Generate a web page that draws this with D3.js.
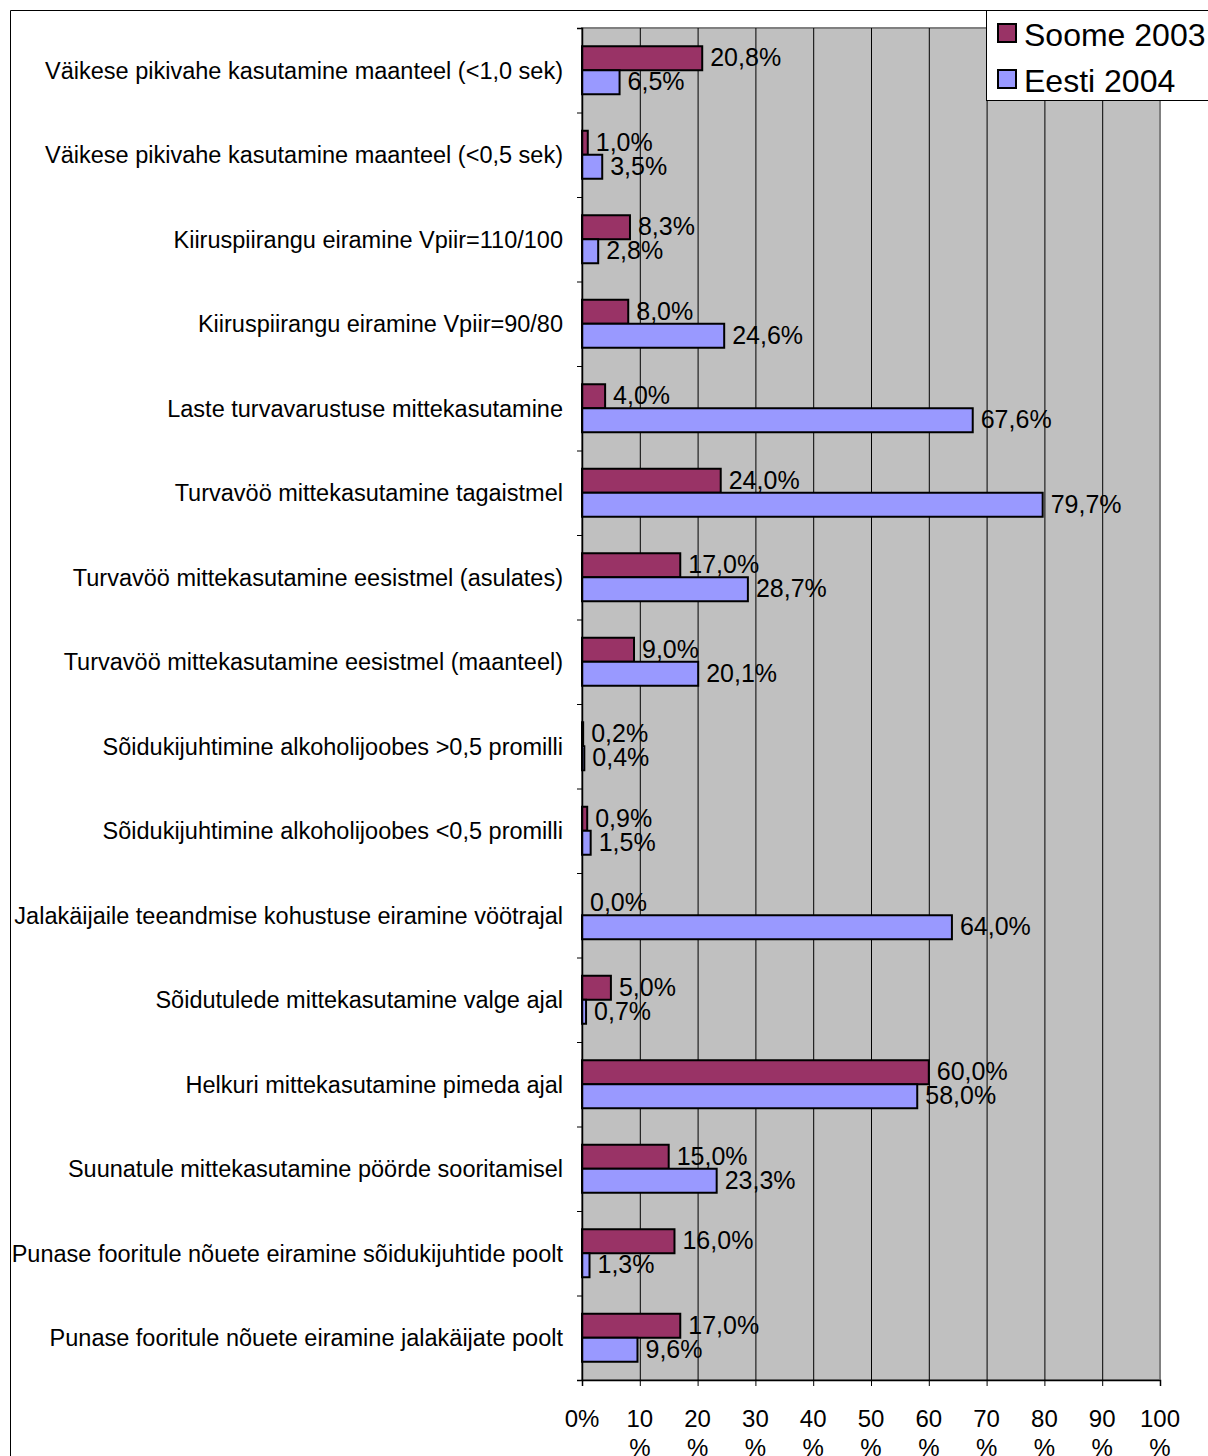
<!DOCTYPE html>
<html>
<head>
<meta charset="utf-8">
<script src="https://cdn.jsdelivr.net/npm/d3@7"></script>
<style>
  body { margin: 0; background: #fff; }
  text { font-family: "Liberation Sans", Arial, sans-serif; fill: #000; }
</style>
</head>
<body>
<svg id="chart" width="1208" height="1456"></svg>
<script>
const categories = [
  'Väikese pikivahe kasutamine maanteel (<1,0 sek)',
  'Väikese pikivahe kasutamine maanteel (<0,5 sek)',
  'Kiiruspiirangu eiramine Vpiir=110/100',
  'Kiiruspiirangu eiramine Vpiir=90/80',
  'Laste turvavarustuse mittekasutamine',
  'Turvavöö mittekasutamine tagaistmel',
  'Turvavöö mittekasutamine eesistmel (asulates)',
  'Turvavöö mittekasutamine eesistmel (maanteel)',
  'Sõidukijuhtimine alkoholijoobes >0,5 promilli',
  'Sõidukijuhtimine alkoholijoobes <0,5 promilli',
  'Jalakäijaile teeandmise kohustuse eiramine vöötrajal',
  'Sõidutulede mittekasutamine valge ajal',
  'Helkuri mittekasutamine pimeda ajal',
  'Suunatule mittekasutamine pöörde sooritamisel',
  'Punase fooritule nõuete eiramine sõidukijuhtide poolt',
  'Punase fooritule nõuete eiramine jalakäijate poolt'
]
const soome2003 = [20.8, 1.0, 8.3, 8.0, 4.0, 24.0, 17.0, 9.0, 0.2, 0.9, 0.0, 5.0, 60.0, 15.0, 16.0, 17.0]
const eesti2004 = [6.5, 3.5, 2.8, 24.6, 67.6, 79.7, 28.7, 20.1, 0.4, 1.5, 64.0, 0.7, 58.0, 23.3, 1.3, 9.6]
const seriesNames = ['Soome 2003', 'Eesti 2004']
const seriesColors = ['#993366', '#9999FF']
const xTicks = [0, 10, 20, 30, 40, 50, 60, 70, 80, 90, 100]

const svg = d3.select('#chart')

// outer chart border (runs off the right/bottom edge like the original)
svg.append('path')
  .attr('d', 'M10.5,1456 V10.5 H1208')
  .attr('fill', 'none')
  .attr('stroke', '#000')

const margin = {left: 582, top: 28}
const width = 578
const height = 1352

const rows = categories.map((c, i) => ({
  cat: c,
  values: [soome2003[i], eesti2004[i]]
}))

const x = d3.scaleLinear().domain([0, 100]).range([0, width])
const y = d3.scaleBand()
  .domain(categories)
  .range([0, height])
  .paddingInner(0.432)
  .paddingOuter(0.216)
const ySub = d3.scaleBand()
  .domain(seriesNames)
  .range([0, y.bandwidth()])

const g = svg.append('g')
  .attr('transform', `translate(${margin.left},${margin.top})`)

// plot area
g.append('rect')
  .attr('x', 0).attr('y', 0)
  .attr('width', width).attr('height', height)
  .attr('fill', '#C0C0C0')
  .attr('stroke', '#808080')
  .attr('stroke-width', 2)

// vertical grid
g.append('g')
  .call(d3.axisBottom(x)
    .tickValues(xTicks.filter(t => t > 0 && t < 100))
    .tickSize(height)
    .tickFormat(''))
  .call(a => a.select('.domain').remove())
  .selectAll('line')
  .attr('stroke', '#000')
  .attr('stroke-width', 1)

// bars
const groups = g.selectAll('.row')
  .data(rows)
  .join('g')
  .attr('class', 'row')
  .attr('transform', d => `translate(0,${y(d.cat)})`)

groups.selectAll('rect')
  .data(d => d.values.map((v, k) => ({name: seriesNames[k], v, k})))
  .join('rect')
  .attr('x', x(0))
  .attr('y', d => ySub(d.name))
  .attr('width', d => x(d.v) - x(0))
  .attr('height', ySub.bandwidth())
  .attr('fill', d => seriesColors[d.k])
  .attr('stroke', '#000')
  .attr('stroke-width', 2)

// value labels
groups.selectAll('text')
  .data(d => d.values.map((v, k) => ({name: seriesNames[k], v, k})))
  .join('text')
  .attr('x', d => x(d.v) + 8)
  .attr('y', d => ySub(d.name) + ySub.bandwidth() / 2 - 1)
  .attr('dy', '0.36em')
  .attr('font-size', 25)
  .text(d => d.v.toFixed(1).replace('.', ',') + '%')

// category axis: ticks at band boundaries, labels at band centres
const yIdx = d3.scaleLinear().domain([0, categories.length]).range([0, height])
g.append('g')
  .call(d3.axisLeft(yIdx).tickValues(d3.range(categories.length + 1)).tickSize(5).tickFormat(''))
  .call(a => a.selectAll('line').attr('stroke', '#000'))
  .call(a => a.select('.domain').attr('stroke', '#000').attr('stroke-width', 1.5))

g.append('g')
  .selectAll('text')
  .data(categories)
  .join('text')
  .attr('x', -19)
  .attr('y', d => y(d) + y.bandwidth() / 2)
  .attr('dy', '0.36em')
  .attr('text-anchor', 'end')
  .attr('font-size', 23.5)
  .text(d => d)

// value axis
const xAxis = g.append('g')
  .attr('transform', `translate(0,${height})`)
  .call(d3.axisBottom(x).tickValues(xTicks).tickSize(6).tickFormat(''))
xAxis.select('.domain').attr('stroke', '#000').attr('stroke-width', 1.5)
xAxis.selectAll('line').attr('stroke', '#000')

const tickLabels = g.append('g')
  .attr('transform', `translate(0,${height})`)
  .selectAll('text')
  .data(xTicks)
  .join('text')
  .attr('x', d => x(d))
  .attr('y', 47)
  .attr('text-anchor', 'middle')
  .attr('font-size', 24)

// narrow labels wrap the percent sign onto a second line
tickLabels.each(function (d) {
  const t = d3.select(this)
  if (d === 0) {
    t.text(d + '%')
  } else {
    t.append('tspan').attr('x', x(d)).text(d)
    t.append('tspan').attr('x', x(d)).attr('dy', 29).text('%')
  }
})

// legend
const legend = svg.append('g').attr('transform', 'translate(986,10)')
legend.append('rect')
  .attr('x', 0.5).attr('y', 0.5)
  .attr('width', 240).attr('height', 90)
  .attr('fill', '#fff')
  .attr('stroke', '#000')

const items = legend.selectAll('.item')
  .data(seriesNames)
  .join('g')
  .attr('class', 'item')
  .attr('transform', (d, i) => `translate(0,${24 + i * 46})`)

items.append('rect')
  .attr('x', 12).attr('y', -10)
  .attr('width', 18).attr('height', 18)
  .attr('fill', (d, i) => seriesColors[i])
  .attr('stroke', '#000')
  .attr('stroke-width', 2)

items.append('text')
  .attr('x', 38)
  .attr('y', 0)
  .attr('dy', '0.36em')
  .attr('font-size', 32)
  .text(d => d)
</script>
</body>
</html>
